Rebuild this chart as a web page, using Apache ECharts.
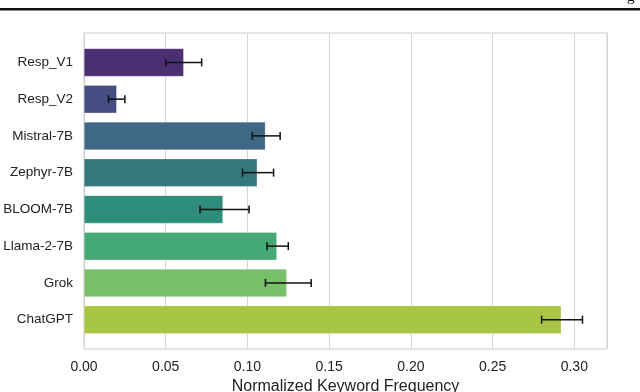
<!DOCTYPE html>
<html>
<head>
<meta charset="utf-8">
<script src="https://cdn.jsdelivr.net/npm/echarts@6/dist/echarts.min.js"></script>
<style>
  html, body { margin: 0; padding: 0; background: #fff; }
  #main { width: 640px; height: 392px; }
</style>
</head>
<body>
<div id="main"></div>
<script>
var models = ['Resp_V1', 'Resp_V2', 'Mistral-7B', 'Zephyr-7B', 'BLOOM-7B', 'Llama-2-7B', 'Grok', 'ChatGPT'];
var freq = [0.061, 0.020, 0.111, 0.106, 0.085, 0.118, 0.124, 0.292];
var errLow = [0.050, 0.015, 0.103, 0.097, 0.071, 0.112, 0.111, 0.280];
var errHigh = [0.072, 0.025, 0.120, 0.116, 0.101, 0.125, 0.139, 0.305];
var xTicks = [0, 0.05, 0.10, 0.15, 0.20, 0.25, 0.30];
var barColors = ['#4a2f73', '#454e82', '#3e6884', '#34787e', '#2e8c7b', '#45a976', '#78bf6a', '#a8c544'];

var myChart = echarts.init(document.getElementById('main'));
var font = 'Liberation Sans, Arial, sans-serif';

var errData = models.map(function (m, i) {
    return [errLow[i], errHigh[i], i];
});

var option = {
    animation: false,
    grid: [
        // frame + vertical grid lines
        { left: 84, right: 33, top: 33, bottom: 43, show: true, borderColor: '#cccccc', borderWidth: 1,
          containLabel: false, outerBoundsMode: 'none' },
        // bars
        { left: 84, right: 33, top: 44, bottom: 54, containLabel: false, outerBoundsMode: 'none' }
    ],
    xAxis: [
        {
            gridIndex: 0, type: 'value', min: 0, max: 0.32, interval: 0.05,
            name: 'Normalized Keyword Frequency', nameLocation: 'middle', nameGap: 27,
            nameTextStyle: { fontFamily: font, fontSize: 16, color: '#222' },
            axisLine: { show: false }, axisTick: { show: false },
            axisLabel: {
                fontFamily: font, fontSize: 14, color: '#222', margin: 11,
                formatter: function (v) { return xTicks.indexOf(+v.toFixed(2)) >= 0 ? v.toFixed(2) : ''; }
            },
            splitLine: { show: true, lineStyle: { color: '#d4d4d4', width: 1 } }
        },
        {
            gridIndex: 1, type: 'value', min: 0, max: 0.32, show: false
        }
    ],
    yAxis: [
        { gridIndex: 0, type: 'value', show: false, min: 0, max: 1 },
        {
            gridIndex: 1, type: 'category', data: models, inverse: true,
            axisLine: { show: true, lineStyle: { color: '#cccccc' } }, axisTick: { show: false },
            axisLabel: { fontFamily: font, fontSize: 13.5, color: '#222', margin: 11 },
            splitLine: { show: false }
        }
    ],
    series: [
        {
            type: 'bar', xAxisIndex: 1, yAxisIndex: 1,
            barWidth: 28,
            data: freq.map(function (v, i) {
                return { value: v, itemStyle: { color: barColors[i] } };
            }),
            itemStyle: { borderColor: 'rgba(255,255,255,0.5)', borderWidth: 0.5 }
        },
        {
            type: 'custom', xAxisIndex: 1, yAxisIndex: 1,
            data: errData,
            z: 10,
            renderItem: function (params, api) {
                var lo = api.coord([api.value(0), api.value(2)]);
                var hi = api.coord([api.value(1), api.value(2)]);
                var cap = 4;
                var style = { stroke: '#111', lineWidth: 1.5 };
                return {
                    type: 'group',
                    children: [
                        { type: 'line', shape: { x1: lo[0], y1: lo[1], x2: hi[0], y2: hi[1] }, style: style },
                        { type: 'line', shape: { x1: lo[0], y1: lo[1] - cap, x2: lo[0], y2: lo[1] + cap }, style: style },
                        { type: 'line', shape: { x1: hi[0], y1: hi[1] - cap, x2: hi[0], y2: hi[1] + cap }, style: style }
                    ]
                };
            }
        }
    ],
    graphic: [
        { type: 'rect', shape: { x: 0, y: 8, width: 640, height: 2.5 }, style: { fill: '#111' } },
        { type: 'text', left: 627, top: -10, style: { text: 'g', font: '15px Liberation Serif', fill: '#111' } }
    ]
};

myChart.setOption(option);
</script>
</body>
</html>
